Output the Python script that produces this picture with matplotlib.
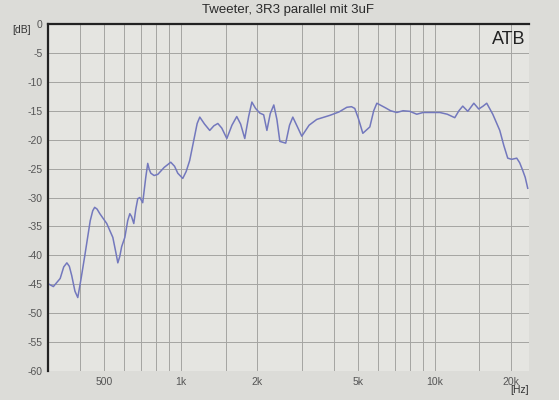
import numpy as np
import matplotlib.pyplot as plt
from matplotlib.ticker import FixedLocator, NullFormatter

# frequency response
freq = [300, 315, 335, 346, 356, 364, 372, 383, 393, 405, 419, 440, 450, 458,
        468, 480, 511, 540, 555, 565, 575, 585, 602, 618, 630, 640, 653, 665,
        677, 690, 708, 728, 741, 752, 762, 785, 812, 860, 913, 945, 973, 1018,
        1050, 1084, 1125, 1160, 1188, 1240, 1300, 1350, 1399, 1450, 1518, 1590,
        1661, 1720, 1786, 1850, 1905, 1970, 2047, 2120, 2183, 2250, 2324, 2390,
        2455, 2589, 2680, 2761, 2880, 2995, 3200, 3430, 3861, 4200, 4506, 4700,
        4842, 5000, 5209, 5550, 5750, 5915, 6400, 6700, 7086, 7500, 7972, 8494,
        9000, 9558, 10470, 11200, 11990, 12450, 12890, 13490, 14250, 14900,
        15500, 16020, 16920, 18030, 18700, 19380, 20090, 21030, 21600, 22190,
        22700, 23230]
level = [-44.9, -45.4, -44.0, -42.0, -41.3, -41.9, -43.5, -46.2, -47.3, -44.0,
         -40.0, -34.0, -32.3, -31.7, -32.0, -32.8, -34.5, -36.9, -39.5, -41.3,
         -40.2, -38.5, -36.9, -34.0, -32.8, -33.3, -34.5, -32.0, -30.2, -30.0,
         -30.9, -26.5, -24.1, -25.2, -25.8, -26.2, -26.0, -24.8, -23.9, -24.6,
         -25.8, -26.7, -25.5, -23.6, -20.1, -17.2, -16.1, -17.3, -18.4, -17.6,
         -17.2, -18.0, -19.8, -17.5, -16.0, -17.3, -19.8, -16.0, -13.5, -14.6,
         -15.4, -15.7, -18.4, -15.5, -14.0, -16.5, -20.3, -20.6, -17.5, -16.1,
         -17.8, -19.4, -17.5, -16.5, -15.8, -15.2, -14.4, -14.3, -14.6, -16.3,
         -18.9, -17.8, -15.0, -13.7, -14.5, -15.0, -15.3, -15.0, -15.1, -15.6,
         -15.3, -15.3, -15.3, -15.6, -16.2, -15.0, -14.2, -15.1, -13.7, -14.7,
         -14.2, -13.7, -15.6, -18.4, -21.0, -23.2, -23.4, -23.2, -24.0, -25.3,
         -26.5, -28.4]

x_grid = [400, 500, 600, 700, 800, 900, 1000, 1500, 2000, 3000, 4000, 5000,
          6000, 7000, 8000, 9000, 10000, 15000, 20000]
x_labels = {500: '500', 1000: '1k', 2000: '2k', 5000: '5k', 10000: '10k', 20000: '20k'}
y_ticks = list(range(0, -65, -5))

plt.rcParams['font.family'] = ['Liberation Sans', 'DejaVu Sans']

fig = plt.figure(figsize=(5.59, 4.0), dpi=100, facecolor='#dcdcd8')
ax = fig.add_axes([48/559, 1-371/400, (529-48)/559, (371-24)/400])
ax.set_facecolor('#e5e5e1')

ax.plot(freq, level, color='#7378bd', lw=1.1)

ax.set_xscale('log')
ax.set_xlim(300, 23500)
ax.set_ylim(-60, 0)

ax.xaxis.set_major_locator(FixedLocator(x_grid))
ax.xaxis.set_minor_locator(FixedLocator([]))
ax.xaxis.set_minor_formatter(NullFormatter())
ax.set_xticklabels([x_labels.get(f, '') for f in x_grid])
ax.set_yticks(y_ticks)
ax.set_yticklabels([str(v) for v in y_ticks])
ax.grid(True, color='#a4a4a2', lw=0.7)
ax.tick_params(length=0, labelsize=7.5, colors='#555555', pad=4)

for s in ['right', 'bottom']:
    ax.spines[s].set_visible(False)
ax.spines['left'].set_linewidth(1.6)
ax.spines['top'].set_linewidth(1.6)
ax.spines['left'].set_color('#222222')
ax.spines['top'].set_color('#222222')

fig.text(0.516, 0.975, 'Tweeter, 3R3 parallel mit 3uF', ha='center', va='center',
         fontsize=9.5, color='#2a2a2a')
fig.text(22/559, 1-30/400, '[dB]', ha='center', va='center', fontsize=7.5, color='#333333')
fig.text(520/559, 1-390/400, '[Hz]', ha='center', va='center', fontsize=7.5, color='#333333')
ax.text(0.993, 0.955, 'ATB', transform=ax.transAxes, ha='right', va='center',
        fontsize=13, color='#222222')

fig.savefig('out.png', dpi=100, facecolor=fig.get_facecolor())
